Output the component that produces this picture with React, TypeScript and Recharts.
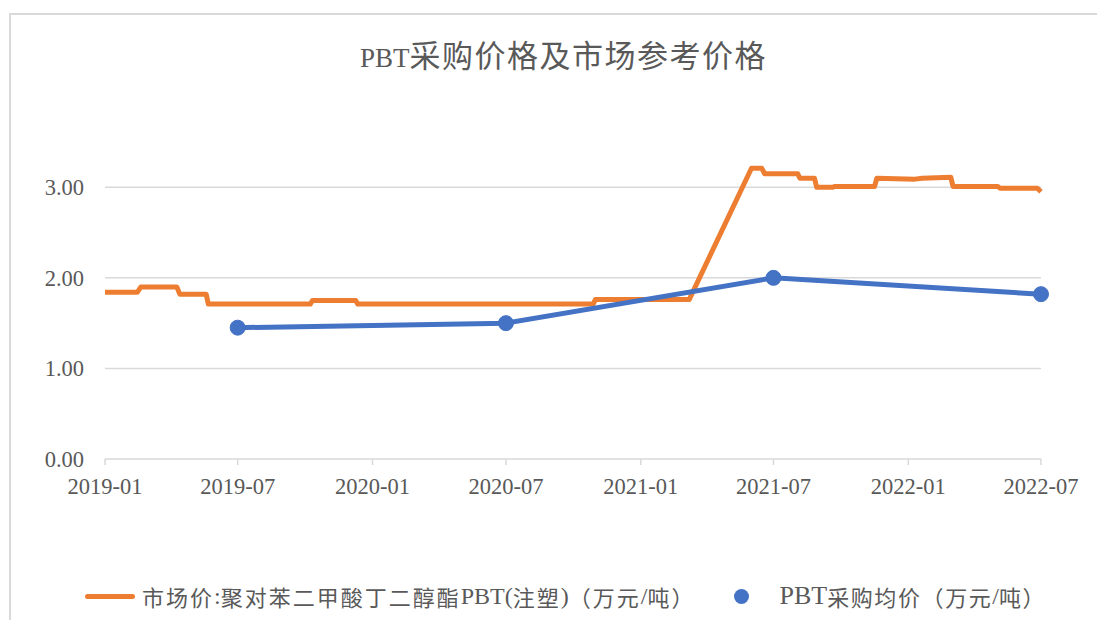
import { LineChart, Line, XAxis, YAxis, CartesianGrid } from "recharts";

const t = (s: string) => Date.parse(s + "T00:00:00Z");

// market price, 万元/吨 (change points of the weekly series)
const marketDates = [
  "2019-01-01", "2019-02-14", "2019-02-19", "2019-04-09", "2019-04-13", "2019-05-19",
  "2019-05-22", "2019-10-08", "2019-10-11", "2019-12-09", "2019-12-12", "2020-10-28",
  "2020-10-31", "2021-03-08", "2021-06-01", "2021-06-15", "2021-06-19", "2021-08-03",
  "2021-08-06", "2021-08-26", "2021-08-29", "2021-09-20", "2021-09-23", "2021-11-16",
  "2021-11-19", "2022-01-10", "2022-01-20", "2022-02-28", "2022-03-03", "2022-05-03",
  "2022-05-06", "2022-06-26", "2022-07-01",
];
const marketValues = [
  1.84, 1.84, 1.9, 1.9, 1.82, 1.82,
  1.71, 1.71, 1.75, 1.75, 1.71, 1.71,
  1.76, 1.76, 3.21, 3.21, 3.15, 3.15,
  3.1, 3.1, 3.0, 3.0, 3.01, 3.01,
  3.1, 3.09, 3.1, 3.11, 3.01, 3.01,
  2.99, 2.99, 2.95,
];

// purchase average price
const purchaseDates = ["2019-07-01", "2020-07-01", "2021-07-01", "2022-07-01"];
const purchaseValues = [1.45, 1.5, 2.0, 1.82];

const xTickLabels = ["2019-01", "2019-07", "2020-01", "2020-07", "2021-01", "2021-07", "2022-01", "2022-07"];
const yTicks = [0, 1, 2, 3];

const marketData = marketDates.map((d, i) => ({ x: t(d), v: marketValues[i] }));
const purchaseData = purchaseDates.map((d, i) => ({ x: t(d), v: purchaseValues[i] }));
const xTicks = xTickLabels.map((s) => t(s + "-01"));

const fmtMonth = (ms: number) => {
  const d = new Date(ms);
  return `${d.getUTCFullYear()}-${String(d.getUTCMonth() + 1).padStart(2, "0")}`;
};

const SERIF = "Liberation Serif";
const CJK = "Noto Sans CJK SC";
const GREY = "#595959";

const Lat = ({ children, size }: { children: any; size: number }) => (
  <span style={{ fontFamily: SERIF, fontSize: size }}>{children}</span>
);
const Han = ({ children, size, sp }: { children: any; size: number; sp: number }) => (
  <span style={{ fontFamily: CJK, fontSize: size, letterSpacing: sp }}>{children}</span>
);

const renderXTick = (props: any) => {
  const { x, y, payload } = props;
  return (
    <text key={payload.value} x={x} y={y + 27} textAnchor="middle" fill={GREY} fontFamily={SERIF} fontSize={22.5}>
      {fmtMonth(payload.value)}
    </text>
  );
};

// labels sit well left of the plot, as in the source
const renderYTick = (props: any) => {
  const { y, payload } = props;
  return (
    <text key={payload.value} x={76} y={y + 8} textAnchor="end" fill={GREY} fontFamily={SERIF} fontSize={22.5}>
      {Number(payload.value).toFixed(2)}
    </text>
  );
};

export default function App() {
  return (
    <div style={{ position: "relative", width: 1089, height: 612, overflow: "hidden", background: "#fff" }}>
      <div
        style={{
          position: "absolute",
          left: 1,
          top: 5,
          width: 1200,
          height: 700,
          border: "2px solid #d9d9d9",
        }}
      />
      <div
        style={{
          position: "absolute",
          left: 0,
          width: 1111,
          top: 26,
          textAlign: "center",
          color: GREY,
          whiteSpace: "nowrap",
          lineHeight: "40px",
        }}
      >
        <Lat size={27}>PBT</Lat>
        <Han size={31} sp={1.5}>采购价格及市场参考价格</Han>
      </div>

      <div style={{ position: "absolute", left: 0, top: 0 }}>
        <LineChart width={1089} height={612} margin={{ top: 134, right: 56, left: 0, bottom: 131 }}>
          <CartesianGrid
            horizontal
            vertical={false}
            horizontalValues={[1, 2, 3]}
            stroke="#d9d9d9"
            strokeWidth={1.5}
          />
          <XAxis
            dataKey="x"
            type="number"
            domain={[xTicks[0], xTicks[xTicks.length - 1]]}
            ticks={xTicks}
            allowDuplicatedCategory={false}
            height={30}
            stroke="#d9d9d9"
            strokeWidth={1.5}
            tickSize={6}
            tick={renderXTick}
          />
          <YAxis
            type="number"
            domain={[0, 3.5]}
            ticks={yTicks}
            width={97}
            axisLine={false}
            tickLine={false}
            tick={renderYTick}
          />
          <Line
            data={marketData}
            dataKey="v"
            type="linear"
            stroke="#ed7d31"
            strokeWidth={5}
            strokeLinejoin="round"
            dot={false}
            isAnimationActive={false}
          />
          <Line
            data={purchaseData}
            dataKey="v"
            type="linear"
            stroke="#4472c4"
            strokeWidth={5}
            dot={{ r: 7.5, fill: "#4472c4", stroke: "#4472c4", strokeWidth: 1 }}
            isAnimationActive={false}
          />
        </LineChart>
      </div>

      <div
        style={{
          position: "absolute",
          left: 77,
          top: 572,
          height: 32,
          display: "flex",
          alignItems: "center",
          color: GREY,
          whiteSpace: "nowrap",
        }}
      >
        <span style={{ width: 50, height: 5, background: "#ed7d31", borderRadius: 3, marginRight: 7 }} />
        <Han size={22} sp={2}>市场价</Han>
        <Lat size={24}>:</Lat>
        <Han size={22} sp={2}>聚对苯二甲酸丁二醇酯</Han>
        <Lat size={24}>PBT(</Lat>
        <Han size={22} sp={2}>注塑</Han>
        <Lat size={24}>)</Lat>
        <Han size={22} sp={2}>（万元</Han>
        <Lat size={24}>/</Lat>
        <Han size={22} sp={2}>吨）</Han>
        <span
          style={{
            width: 15,
            height: 15,
            borderRadius: "50%",
            background: "#4472c4",
            marginLeft: 39,
            marginRight: 30,
          }}
        />
        <Lat size={26}>PBT</Lat>
        <Han size={22} sp={1.6}>采购均价（万元</Han>
        <Lat size={24}>/</Lat>
        <Han size={22} sp={1.6}>吨）</Han>
      </div>
    </div>
  );
}
